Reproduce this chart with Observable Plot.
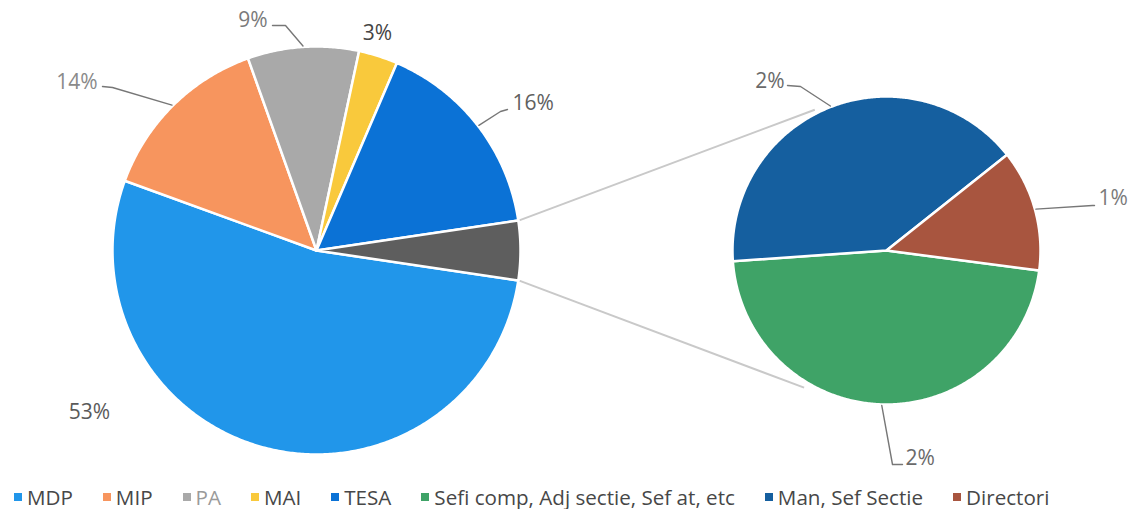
<!DOCTYPE html>
<html><head><meta charset="utf-8">
<script src="https://cdn.jsdelivr.net/npm/d3@7"></script>
<script src="https://cdn.jsdelivr.net/npm/@observablehq/plot@0.6"></script>
<style>
body{margin:0;background:#fff;font-family:"Open Sans",sans-serif;}
#legend{display:flex;gap:30px;padding-left:14px;padding-top:3px;height:27px;align-items:center;font-size:20.6px;color:#474747;white-space:nowrap;}
.item{display:flex;align-items:center;gap:5px;}
.sw{width:8px;height:8px;display:inline-block;}
</style></head><body><div id="chart"></div><div id="legend"></div>
<script>
// ---- data ----
const mainCategories = ["MDP", "MIP", "PA", "MAI", "TESA"];
const mainValues = [53.2, 14.0, 8.8, 3.1, 16.2];
const subCategories = ["Sefi comp, Adj sectie, Sef at, etc", "Man, Sef Sectie", "Directori"];
const subValues = [2.2, 1.9, 0.6];
const mainColors = ["#2196ea", "#f7955e", "#a9a9a9", "#f9c93c", "#0b72d6"];
const subColors = ["#3fa367", "#155f9f", "#a8553f"];
const otherColor = "#5e5e5e";

// ---- layout ----
const W = 1137, H = 480;
const big = {cx: 316, cy: 250, r: 204};
const small = {cx: 886, cy: 250, r: 154};
const total = d3.sum(mainValues) + d3.sum(subValues);
const otherValue = d3.sum(subValues);

const rad = a => a * Math.PI / 180;
const pt = (p, a, r) => [p.cx + r * Math.sin(rad(a)), p.cy - r * Math.cos(rad(a))];

// main pie slices: Other centred at 90deg, MDP starts right after it
const otherSpan = otherValue / total * 360;
let start = 90 + otherSpan / 2;
const mainSlices = [];
mainCategories.forEach((k, i) => {
  const span = mainValues[i] / total * 360;
  mainSlices.push({key: k, a0: start, a1: start + span, value: mainValues[i], pie: big});
  start += span;
});
mainSlices.push({key: "Other", a0: 90 - otherSpan / 2, a1: 90 + otherSpan / 2, value: otherValue, pie: big});

// secondary pie
let s2 = 97.5;
const subSlices = subCategories.map((k, i) => {
  const span = subValues[i] / otherValue * 360;
  const o = {key: k, a0: s2, a1: s2 + span, value: subValues[i], pie: small};
  s2 += span;
  return o;
});

const rows = [];
for (const s of [...mainSlices, ...subSlices]) {
  rows.push({key: s.key, x: s.pie.cx, y: s.pie.cy});
  const n = Math.max(2, Math.ceil((s.a1 - s.a0) / 0.5));
  for (let j = 0; j <= n; j++) {
    const [x, y] = pt(s.pie, s.a0 + (s.a1 - s.a0) * j / n, s.pie.r);
    rows.push({key: s.key, x, y});
  }
}

// labels (offset from pie centre, leader elbow offsets)
const labelLayout = {
  "MDP": {dx: -227, dy: 162, anchor: "middle", color: "#5a5a5a"},
  "MIP": {dx: -219, dy: -168, anchor: "end", leader: [[15, 5], [5, 4]], color: "#8a8a8a"},
  "PA": {dx: -49, dy: -230, anchor: "end", leader: [[18, 5], [5, 5]], color: "#7a7a7a"},
  "MAI": {dx: 61, dy: -217, anchor: "middle", color: "#454545"},
  "TESA": {dx: 196, dy: -147, anchor: "start", leader: [[-12, 8], [-5, 6]], color: "#606060"},
  "Sefi comp, Adj sectie, Sef at, etc": {dx: 19, dy: 208, anchor: "start", leader: [[-13, 6], [-3, 6]], color: "#6a6a6a"},
  "Man, Sef Sectie": {dx: -102, dy: -169, anchor: "end", leader: [[16, 5], [3, 4]], color: "#6a6a6a"},
  "Directori": {dx: 212, dy: -52, anchor: "start", leader: [[-6, 7], [-4, 7]], color: "#7a7a7a"}
};
const labels = [], leaders = [];
for (const s of [...mainSlices, ...subSlices]) {
  const L = labelLayout[s.key];
  if (!L) continue;
  const lx = s.pie.cx + L.dx, ly = s.pie.cy + L.dy;
  labels.push({x: lx, y: ly, text: Math.round(s.value / total * 100) + "%", anchor: L.anchor, color: L.color});
  if (L.leader) {
    const [ax, ay] = pt(s.pie, (s.a0 + s.a1) / 2, s.pie.r + 1);
    leaders.push({key: s.key, x: ax, y: ay});
    for (const [ex, ey] of L.leader) leaders.push({key: s.key, x: lx + ex, y: ly + ey});
  }
}

// connector lines from Other slice corners to secondary pie
const other = mainSlices.find(d => d.key === "Other");
const connectors = [
  {p1: pt(big, other.a0, big.r + 1), p2: pt(small, 333, small.r + 4)},
  {p1: pt(big, other.a1, big.r + 1), p2: pt(small, 211, small.r + 6)}
];

const chart = Plot.plot({
  width: W, height: H, margin: 0,
  x: {domain: [0, W], range: [0, W], axis: null},
  y: {domain: [0, H], range: [0, H], axis: null},
  color: {domain: [...mainCategories, "Other", ...subCategories], range: [...mainColors, otherColor, ...subColors]},
  style: {fontFamily: "Open Sans, sans-serif", background: "white"},
  marks: [
    Plot.link(connectors, {x1: d => d.p1[0], y1: d => d.p1[1], x2: d => d.p2[0], y2: d => d.p2[1], stroke: "#c9c9c9", strokeWidth: 2}),
    Plot.line(rows, {x: "x", y: "y", z: "key", fill: "key", stroke: "white", strokeWidth: 2.5, curve: "linear-closed"}),
    Plot.line(leaders, {x: "x", y: "y", z: "key", stroke: "#777", strokeWidth: 1.4}),
    Plot.text(labels, {x: "x", y: "y", text: "text", fill: d => d.color, fontSize: 21})
  ]
});
document.getElementById("chart").appendChild(chart);
chart.querySelectorAll("g[aria-label=text] text").forEach((t, i) => t.setAttribute("text-anchor", labels[i].anchor));

const legend = document.getElementById("legend");
[...mainCategories, ...subCategories].forEach((k, i) => {
  const c = [...mainColors, ...subColors][i];
  const it = document.createElement("div");
  it.className = "item";
  it.innerHTML = `<span class="sw" style="background:${c}"></span><span style="color:${k === "PA" ? "#9a9a9a" : "#474747"}">${k}</span>`;
  legend.appendChild(it);
});
</script></body></html>
